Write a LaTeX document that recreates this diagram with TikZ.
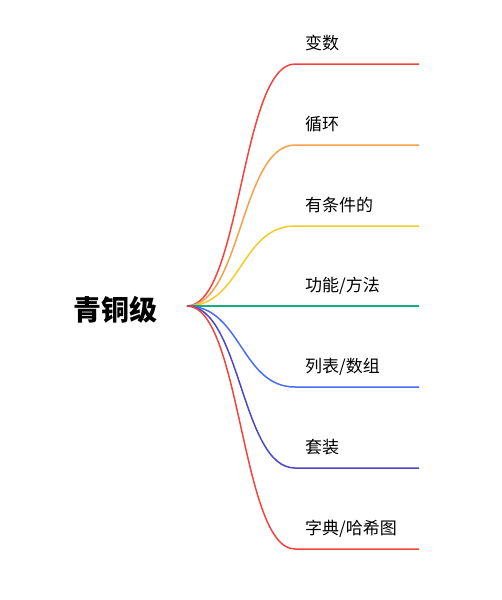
\documentclass[tikz,border=0pt]{standalone}
\usepackage{fontspec}
\newfontfamily\cjk{Noto Sans CJK SC}
\definecolor{cRed}{HTML}{F2443C}
\definecolor{cOrange}{HTML}{F5A04A}
\definecolor{cYellow}{HTML}{F2CD2A}
\definecolor{cGreen}{HTML}{15AE7A}
\definecolor{cBlue}{HTML}{4A6CF5}
\definecolor{cIndigo}{HTML}{4A48C0}
\begin{document}
\begin{tikzpicture}[x=1pt,y=-1pt]
  \useasboundingbox (0,0) rectangle (501,600);
  \node[font=\cjk\bfseries\fontsize{28}{28}\selectfont,anchor=base west,inner sep=0] (root) at (73,320) {青铜级};
  \coordinate (r) at (187,306);

  \foreach \i/\yy/\col/\txt in {1/64/cRed/{变数}, 2/145/cOrange/{循环}, 3/226/cYellow/{有条件的},
      4/306/cGreen/{功能/方法}, 5/387/cBlue/{列表/数组}, 6/468/cIndigo/{套装}, 7/549/cRed/{字典/哈希图}} {
    \coordinate (k\i) at (295,\yy);
    \coordinate (e\i) at (419,\yy);
    \node[font=\cjk\fontsize{17}{17}\selectfont,anchor=base west,inner sep=0] (t\i) at (305,\yy-15) {\txt};
    \draw[\col, line width=1.5pt] (r) .. controls (241,306) and (241,\yy) .. (k\i) -- (e\i);
  }
\end{tikzpicture}
\end{document}
